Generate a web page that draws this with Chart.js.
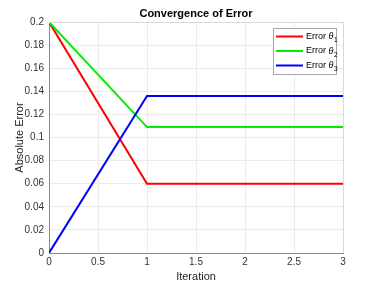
<!DOCTYPE html>
<html lang="en">
<head>
    <meta charset="UTF-8">
    <title>Convergence of Error</title>
    <script src="https://cdn.jsdelivr.net/npm/chart.js"></script>
    <style>
        body {
            margin: 0;
            background-color: white;
        }
        .chart-box {
            width: 379px;
            height: 284px;
        }
    </style>
</head>
<body>
    <div class="chart-box">
        <canvas id="errorChart" width="379" height="284"></canvas>
    </div>

    <script>
        const iterations = [0, 1, 2, 3];
        const errTheta1 = [0.2, 0.06, 0.06, 0.06];
        const errTheta2 = [0.2, 0.109, 0.109, 0.109];
        const errTheta3 = [0, 0.136, 0.136, 0.136];
        const seriesNames = ['1', '2', '3'];
        const seriesColors = ['#ff0000', '#00ee00', '#0000ff'];

        const fontFamily = '"Liberation Sans", Arial, Helvetica, sans-serif';

        function toPoints(values) {
            return iterations.map((x, i) => ({ x: x, y: values[i] }));
        }

        // titulo y leyenda estilo matlab
        const matlabDecor = {
            id: 'matlabDecor',
            afterDraw(chart) {
                const ctx = chart.ctx;
                const area = chart.chartArea;
                ctx.save();
                ctx.fillStyle = '#000';
                ctx.font = 'bold 11px ' + fontFamily;
                ctx.textAlign = 'center';
                ctx.textBaseline = 'middle';
                ctx.fillText('Convergence of Error', (area.left + area.right) / 2, 14);

                // borde derecho y superior claros
                ctx.strokeStyle = '#d9d9d9';
                ctx.lineWidth = 1;
                ctx.beginPath();
                ctx.moveTo(area.left, area.top + 0.5);
                ctx.lineTo(area.right + 0.5, area.top + 0.5);
                ctx.lineTo(area.right + 0.5, area.bottom);
                ctx.stroke();

                const boxW = 63, boxH = 46;
                const bx = area.right - 7 - boxW;
                const by = area.top + 6;
                ctx.fillStyle = '#fff';
                ctx.fillRect(bx, by, boxW, boxH);
                ctx.strokeStyle = '#a6a6a6';
                ctx.strokeRect(bx + 0.5, by + 0.5, boxW, boxH);

                ctx.textAlign = 'left';
                seriesNames.forEach((n, i) => {
                    const y = by + 8.5 + i * 14.5;
                    ctx.strokeStyle = seriesColors[i];
                    ctx.lineWidth = 2;
                    ctx.beginPath();
                    ctx.moveTo(bx + 3, y);
                    ctx.lineTo(bx + 30, y);
                    ctx.stroke();
                    let tx = bx + 33;
                    ctx.fillStyle = '#000';
                    ctx.font = '9px ' + fontFamily;
                    ctx.fillText('Error ', tx, y);
                    tx += ctx.measureText('Error ').width;
                    ctx.font = 'italic 9px ' + fontFamily;
                    ctx.fillText('θ', tx, y);
                    tx += ctx.measureText('θ').width + 0.5;
                    ctx.font = '6.5px ' + fontFamily;
                    ctx.fillText(n, tx, y + 4);
                });
                ctx.restore();
            }
        };

        const ctx = document.getElementById('errorChart').getContext('2d');
        const errorChart = new Chart(ctx, {
            type: 'line',
            data: {
                datasets: [
                    { label: 'Error θ1', data: toPoints(errTheta1), borderColor: seriesColors[0], order: 2 },
                    { label: 'Error θ2', data: toPoints(errTheta2), borderColor: seriesColors[1], order: 1 },
                    { label: 'Error θ3', data: toPoints(errTheta3), borderColor: seriesColors[2], order: 0 }
                ]
            },
            options: {
                responsive: false,
                animation: false,
                layout: { padding: { top: 22, right: 36, left: 0, bottom: 0 } },
                elements: {
                    line: { borderWidth: 2, tension: 0, fill: false },
                    point: { radius: 0 }
                },
                plugins: {
                    legend: { display: false },
                    tooltip: { enabled: false }
                },
                scales: {
                    x: {
                        type: 'linear',
                        min: 0,
                        max: 3,
                        afterFit(scale) { scale.height = 31; },
                        ticks: {
                            stepSize: 0.5,
                            color: '#333',
                            padding: 3,
                            maxRotation: 0,
                            font: { family: fontFamily, size: 10 },
                            callback: v => String(+v.toFixed(1))
                        },
                        grid: { color: '#ebebeb', drawTicks: false },
                        border: { color: '#888' },
                        title: {
                            display: true,
                            text: 'Iteration',
                            color: '#262626',
                            padding: 0,
                            font: { family: fontFamily, size: 11 }
                        }
                    },
                    y: {
                        min: 0,
                        max: 0.2,
                        afterFit(scale) { scale.width = 49; },
                        ticks: {
                            stepSize: 0.02,
                            color: '#333',
                            padding: 5,
                            font: { family: fontFamily, size: 10 },
                            callback: v => String(+v.toFixed(2))
                        },
                        grid: { color: '#ebebeb', drawTicks: false },
                        border: { color: '#888' },
                        title: {
                            display: true,
                            text: 'Absolute Error',
                            color: '#262626',
                            padding: { top: 13, bottom: 0 },
                            font: { family: fontFamily, size: 11 }
                        }
                    }
                }
            },
            plugins: [matlabDecor]
        });
    </script>
</body>
</html>
